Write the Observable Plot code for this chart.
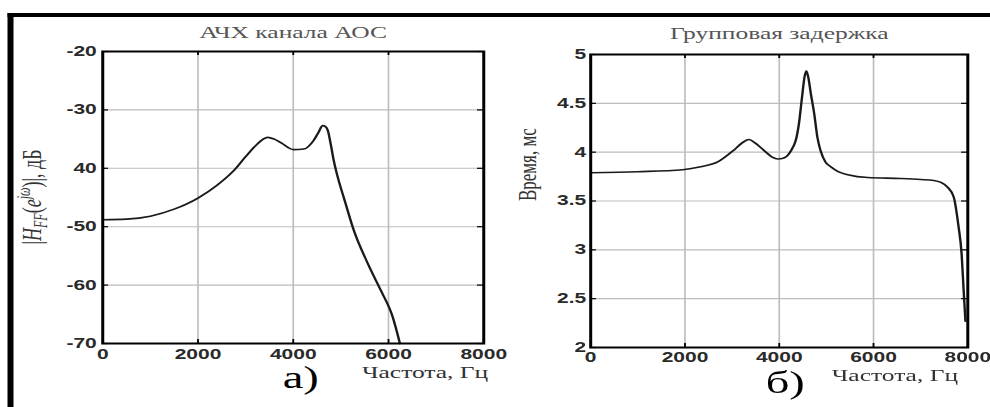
<!DOCTYPE html>
<html>
<head>
<meta charset="utf-8">
<script src="https://cdn.jsdelivr.net/npm/d3@7"></script>
<script src="https://cdn.jsdelivr.net/npm/@observablehq/plot@0.6"></script>
<style>
  html, body { margin: 0; padding: 0; background: #fff; overflow: hidden; }
  /* the figure is laid out at 660px and stretched horizontally to 990px */
  #page { position: relative; width: 660px; height: 407px; transform: scaleX(1.5); transform-origin: 0 0; background: #fff; }
  #edge { position: absolute; left: 5.3px; top: 13px; right: -10px; bottom: -10px; border-top: 4px solid #000; border-left: 4px solid #000; }
  .panel { position: absolute; top: 0; }
</style>
</head>
<body>
<div id="page"><div id="edge"></div></div>
<script>
// Frequency axis shared by both panels
const freqTicks = [0, 2000, 4000, 6000, 8000];
const freqTickLabels = ["0", "2000", "4000", "6000", "8000"];

// а) magnitude response of the feedback channel, dB
const ampFreq = [0, 500, 1000, 1500, 2000, 2400, 2750, 3000, 3200, 3465, 3600, 3738, 4011, 4221, 4431, 4520, 4620, 4680, 4725, 4790, 4851, 4950, 5061, 5271, 5565, 5838, 6090, 6240];
const ampDb   = [-48.8, -48.7, -48.2, -47.0, -45.1, -42.9, -40.4, -38.0, -36.2, -34.7, -35.0, -35.6, -36.8, -36.7, -35.2, -34.0, -32.7, -32.9, -33.5, -36.0, -38.7, -42.0, -45.0, -50.6, -56.3, -60.9, -65.5, -70.0];
const ampTicks = [-70, -60, -50, -40, -30, -20];
const ampTickLabels = ["-70", "-60", "-50", "40", "-30", "-20"];

// б) group delay, ms
const delayFreq = [0, 1000, 1952, 2334, 2695, 3035, 3200, 3353, 3500, 3671, 3850, 3968, 4100, 4202, 4300, 4350, 4420, 4480, 4540, 4575, 4610, 4670, 4740, 4810, 4880, 4980, 5093, 5250, 5453, 5878, 6578, 7000, 7278, 7430, 7575, 7702, 7800, 7870, 7910, 7950];
const delayMs   = [3.79, 3.80, 3.82, 3.85, 3.90, 4.02, 4.09, 4.13, 4.09, 4.02, 3.95, 3.93, 3.94, 3.98, 4.06, 4.12, 4.30, 4.55, 4.78, 4.83, 4.78, 4.60, 4.40, 4.15, 4.01, 3.90, 3.85, 3.80, 3.77, 3.74, 3.73, 3.72, 3.71, 3.69, 3.64, 3.54, 3.25, 2.95, 2.60, 2.27];
const delayTicks = [2, 2.5, 3, 3.5, 4, 4.5, 5];
const delayTickLabels = ["2", "2.5", "3", "3.5", "4", "4.5", "5"];

const H = 407;
const tickFont = {fontSize: 14, fontWeight: "bold", fontFamily: "Liberation Sans, Arial, sans-serif", fill: "#2a2a2a"};
const serif = "Liberation Serif, Times New Roman, serif";

function panel(o) {
  const data = o.xs.map((x, i) => ({x, y: o.ys[i]}));
  const innerW = o.width - o.marginLeft - o.marginRight;
  const innerH = H - o.marginTop - o.marginBottom;
  const tl = 4;
  const grid = {stroke: "#bdbdbd", strokeOpacity: 1, strokeWidth: 1.1};
  const tick = {stroke: "#000", strokeWidth: 1.2};
  return Plot.plot({
    width: o.width, height: H,
    marginLeft: o.marginLeft, marginRight: o.marginRight, marginTop: o.marginTop, marginBottom: o.marginBottom,
    style: {background: "transparent", overflow: "visible"},
    x: {domain: [0, 8000]},
    y: {domain: o.yDomain},
    marks: [
      Plot.gridX(freqTicks, grid),
      Plot.gridY(o.yTicks, grid),
      Plot.tickX(freqTicks, {x: d => d, insetTop: innerH - tl, ...tick}),
      Plot.tickX(freqTicks, {x: d => d, insetBottom: innerH - tl, ...tick}),
      Plot.tickY(o.yTicks, {y: d => d, insetRight: innerW - tl, ...tick}),
      Plot.tickY(o.yTicks, {y: d => d, insetLeft: innerW - tl, ...tick}),
      Plot.line(data, {x: "x", y: "y", stroke: "#1a1a1a", strokeWidth: 1.6, curve: "monotone-x"}),
      Plot.frame({stroke: "#000", strokeWidth: 2}),
      Plot.axisX(freqTicks, {anchor: "bottom", tickSize: 0, tickPadding: o.xPad, label: null,
        tickFormat: d => freqTickLabels[freqTicks.indexOf(d)], ...tickFont}),
      Plot.axisY(o.yTicks, {anchor: "left", tickSize: 0, tickPadding: o.yPad, label: null,
        tickFormat: d => o.yTickLabels[o.yTicks.indexOf(d)], ...tickFont}),
      Plot.text([o.title], {frameAnchor: "top", dy: o.titleDy, fontSize: 17, fontFamily: serif, fill: "#555", lineAnchor: "middle"}),
      Plot.text(["Частота, Гц"], {frameAnchor: "bottom-right", textAnchor: "end", dx: o.xlabDx, dy: o.xlabDy, fontSize: 17, fontFamily: serif, fill: "#333", lineAnchor: "middle"}),
      Plot.text([o.tag], {frameAnchor: "bottom", dx: o.tagDx, dy: o.tagDy, fontSize: 31, fontFamily: serif, fill: "#000", lineAnchor: "middle"}),
      ...(o.ylabel ? [Plot.text([o.ylabel], {frameAnchor: "left", dx: o.ylabDx, rotate: -90, fontSize: 17, fontFamily: serif, fill: "#333", lineAnchor: "middle"})] : [])
    ]
  });
}

const page = document.getElementById("page");

const left = panel({
  width: 330, marginLeft: 68, marginRight: 8, marginTop: 51, marginBottom: 64,
  xs: ampFreq, ys: ampDb, yDomain: [-70, -20], yTicks: ampTicks, yTickLabels: ampTickLabels,
  title: "АЧХ канала АОС", titleDy: -19, xPad: 6, yPad: 4,
  xlabDx: 3, xlabDy: 29, tag: "а)", tagDx: 5, tagDy: 35
});
left.classList.add("panel");
left.style.left = "0px";
page.appendChild(left);

// |H_FF(e^{jω})|, дБ — axis title with sub- and superscripts
const yl = d3.select(left).append("text")
  .attr("transform", "translate(27,197) rotate(-90)")
  .attr("text-anchor", "middle")
  .attr("font-family", serif)
  .attr("font-size", 18)
  .attr("fill", "#333");
yl.append("tspan").text("|");
yl.append("tspan").attr("font-style", "italic").text("H");
yl.append("tspan").attr("font-style", "italic").attr("font-size", 12).attr("dy", 4).text("FF");
yl.append("tspan").attr("dy", -4).text("(");
yl.append("tspan").attr("font-style", "italic").text("e");
yl.append("tspan").attr("font-style", "italic").attr("font-size", 12).attr("dy", -7).text("jω");
yl.append("tspan").attr("dy", 7).text(")|, дБ");

const right = panel({
  width: 330, marginLeft: 63.3, marginRight: 15.3, marginTop: 54, marginBottom: 60,
  xs: delayFreq, ys: delayMs, yDomain: [2, 5], yTicks: delayTicks, yTickLabels: delayTickLabels,
  title: "Групповая задержка", titleDy: -21, xPad: 5, yPad: 3,
  xlabDx: -6.5, xlabDy: 28, tag: "б)", tagDx: 4, tagDy: 36,
  ylabel: "Время, мс", ylabDx: -42
});
right.classList.add("panel");
right.style.left = "330px";
page.appendChild(right);
</script>
</body>
</html>
